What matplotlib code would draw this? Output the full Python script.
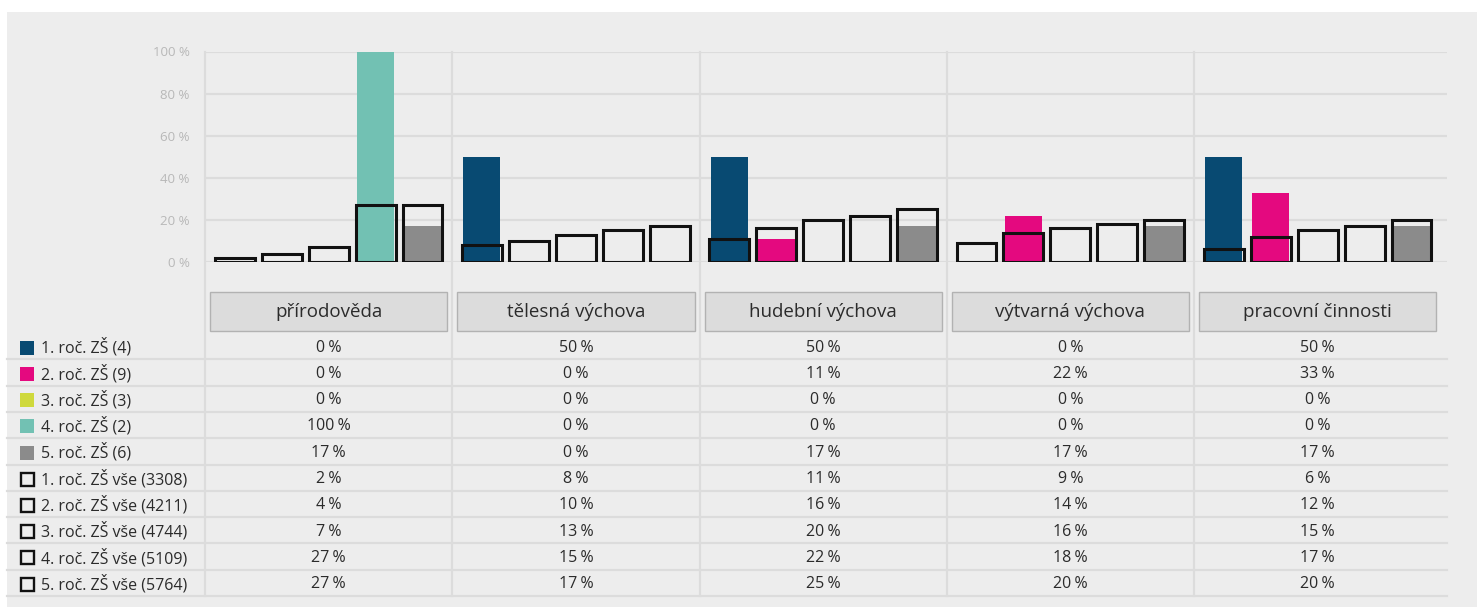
"""Grouped bars (school subjects by grade) with a value table underneath."""
import numpy as np
import matplotlib
matplotlib.use("Agg")
import matplotlib.pyplot as plt
from matplotlib.patches import Rectangle

plt.rcParams["font.family"] = ["Open Sans", "DejaVu Sans"]

categories = ["přírodověda", "tělesná výchova", "hudební výchova",
              "výtvarná výchova", "pracovní činnosti"]

# filled bars: sample of the school
sample_labels = ["1. roč. ZŠ (4)", "2. roč. ZŠ (9)", "3. roč. ZŠ (3)",
                 "4. roč. ZŠ (2)", "5. roč. ZŠ (6)"]
sample_vals = [
    [0, 50, 50, 0, 50],
    [0, 0, 11, 22, 33],
    [0, 0, 0, 0, 0],
    [100, 0, 0, 0, 0],
    [17, 0, 17, 17, 17],
]
sample_colors = ["#084a72", "#e4097f", "#cfd93c", "#72c1b3", "#8b8b8b"]

# outline bars: all schools
all_labels = ["1. roč. ZŠ vše (3308)", "2. roč. ZŠ vše (4211)", "3. roč. ZŠ vše (4744)",
              "4. roč. ZŠ vše (5109)", "5. roč. ZŠ vše (5764)"]
all_vals = [
    [2, 8, 11, 9, 6],
    [4, 10, 16, 14, 12],
    [7, 13, 20, 16, 15],
    [27, 15, 22, 18, 17],
    [27, 17, 25, 20, 20],
]

yticks = [0, 20, 40, 60, 80, 100]

W, H = 1477, 607
BG = "#ededed"
LINE = "#dcdcdc"
TXT = "#2b2b2b"

fig = plt.figure(figsize=(W / 100, H / 100), dpi=100)
fig.patch.set_facecolor("white")

# background axes in pixel coordinates for the table part
bg = fig.add_axes([0, 0, 1, 1])
bg.set_xlim(0, W); bg.set_ylim(H, 0); bg.axis("off")
bg.add_patch(Rectangle((7, 12), W - 7, H - 12, facecolor=BG, edgecolor="none"))

ax_l, ax_r, ax_b, ax_t = 205, 1447, 262, 51.5
n_cat = len(categories)
cw = 247.25

# vertical separators through chart and table
for i in range(n_cat):
    x = ax_l + i * cw
    bg.plot([x, x], [ax_t, 596], color=LINE, lw=1.6, zorder=1)

# category header boxes
for i, c in enumerate(categories):
    x0 = ax_l + i * cw + 5
    bg.add_patch(Rectangle((x0, 292), cw - 10, 39, facecolor="#dcdcdc",
                           edgecolor="#b2b2b2", lw=1.0, zorder=2))
    bg.text(x0 + (cw - 10) / 2, 312, c, ha="center", va="center",
            fontsize=13.5, color=TXT, zorder=3)

# table rows
row_labels = sample_labels + all_labels
row_vals = sample_vals + all_vals
row_h = 26.3
first_line = 359.3
for r, (lab, vals) in enumerate(zip(row_labels, row_vals)):
    yl = first_line + r * row_h
    yc = yl - 11.8
    bg.plot([7, ax_r], [yl, yl], color=LINE, lw=1.6, zorder=1)
    if r < len(sample_labels):
        bg.add_patch(Rectangle((20, yc - 7), 14, 14, facecolor=sample_colors[r],
                               edgecolor="none", zorder=2))
    else:
        bg.add_patch(Rectangle((21, yc - 6.5), 13, 13, facecolor="none",
                               edgecolor="#111111", lw=1.7, zorder=2))
    bg.text(41, yc, lab, ha="left", va="center", fontsize=11.5, color=TXT)
    for i, v in enumerate(vals):
        bg.text(ax_l + (i + 0.5) * cw, yc, f"{v}\u202f%", ha="center", va="center",
                fontsize=11.5, color=TXT)

# bar chart axes (grid runs a little past the last category)
ax = fig.add_axes([ax_l / W, 1 - ax_b / H, (ax_r - ax_l) / W, (ax_b - ax_t) / H])
ax.set_facecolor("none")
ax.set_xlim(-0.5, -0.5 + (ax_r - ax_l) / cw)
ax.set_ylim(0, 100)
x = np.arange(n_cat)
step = 0.19
for k in range(5):
    off = (k - 2) * step
    ax.bar(x + off, sample_vals[k], width=0.149, color=sample_colors[k], zorder=2)
for k in range(5):
    off = (k - 2) * step
    ax.bar(x + off, all_vals[k], width=0.161, facecolor="none",
           edgecolor="#111111", linewidth=2.2, zorder=3)

ax.set_yticks(yticks)
ax.set_yticklabels([f"{v} %" for v in yticks], color="#b8b8b8", fontsize=9.5)
ax.set_xticks([])
ax.tick_params(axis="y", length=0, pad=11)
ax.yaxis.grid(True, color=LINE, lw=1.6, zorder=0)
ax.set_axisbelow(True)
for s in ax.spines.values():
    s.set_visible(False)

fig.savefig("out.png", dpi=100, facecolor=fig.get_facecolor())
